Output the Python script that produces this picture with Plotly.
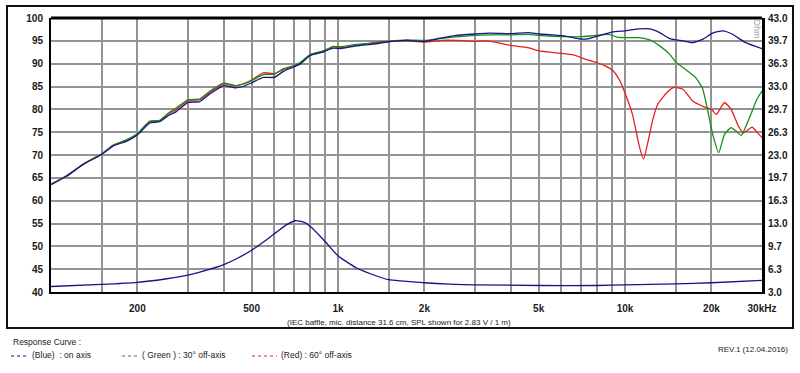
import plotly.graph_objects as go

# ---------------- data ----------------
freq_blue = [100, 113, 130, 150, 165, 183, 200, 221, 239, 259, 273, 300, 330, 358, 400, 438, 467, 500,
             549, 600, 645, 700, 740, 800, 888, 962, 1020, 1160, 1330, 1500, 1730, 2000, 2270, 2520,
             3000, 3400, 4000, 4600, 5000, 5600, 6250, 7000, 7500, 8100, 9000, 10000, 11200, 12200,
             13200, 14300, 15900, 17200, 18600, 20200, 21900, 23600, 26300, 30000]
spl_blue = [63.5, 65.3, 68.0, 70.1, 72.0, 73.0, 74.4, 77.0, 77.3, 78.8, 79.5, 81.5, 81.7, 83.4, 85.2, 84.7,
            85.0, 85.8, 87.0, 87.0, 88.3, 89.3, 90.0, 91.8, 92.6, 93.4, 93.3, 93.9, 94.3, 94.8, 95.1, 94.9,
            95.6, 96.1, 96.5, 96.7, 96.6, 96.8, 96.5, 96.3, 96.0, 95.4, 95.5, 96.1, 96.9, 97.2, 97.6, 97.6,
            96.8, 95.5, 95.0, 94.6, 95.3, 96.7, 97.2, 96.5, 94.6, 93.3]

freq_green = [100, 113, 130, 150, 165, 183, 200, 221, 239, 259, 273, 300, 330, 358, 400, 438, 467, 500,
              549, 600, 645, 700, 740, 800, 888, 962, 1020, 1160, 1330, 1500, 1730, 2000, 2270, 2520,
              3000, 3400, 4000, 4600, 5000, 5600, 6250, 7000, 7700, 8800, 9400, 10000, 11200, 12200,
              13200, 14300, 15000, 16200, 17600, 18600, 19300, 20200, 21200, 22200, 23400, 24300,
              25400, 27300, 28800, 30000]
spl_green = [63.6, 65.4, 68.1, 70.2, 72.2, 73.3, 74.7, 77.4, 77.6, 79.4, 80.3, 82.1, 82.3, 84.0, 85.8, 85.2,
             85.5, 86.3, 87.6, 87.7, 88.9, 89.6, 90.3, 92.0, 92.8, 93.8, 93.7, 94.2, 94.5, 94.9, 95.2, 95.1,
             95.5, 95.8, 96.2, 96.3, 96.3, 96.4, 96.2, 96.0, 95.9, 95.9, 96.1, 96.4, 95.8, 95.7, 95.7, 95.2,
             93.9, 92.1, 90.4, 88.8, 87.0, 84.6, 80.5, 74.5, 70.5, 74.5, 76.0, 75.3, 74.3, 78.6, 82.2, 84.0]

freq_red = [100, 113, 130, 150, 165, 183, 200, 221, 239, 259, 273, 300, 330, 358, 400, 438, 467, 500,
            549, 600, 645, 700, 740, 800, 888, 962, 1020, 1160, 1330, 1500, 1730, 2000, 2300, 2600,
            3000, 3300, 3600, 4000, 4600, 5000, 5900, 6600, 7250, 8000, 8600, 9100, 9600, 10000, 10600,
            11200, 11600, 12000, 12500, 13000, 14000, 14800, 15900, 17200, 18600, 20000, 20800, 22200,
            23400, 24800, 25800, 27700, 28800, 30000]
spl_red = [63.6, 65.4, 68.1, 70.2, 72.2, 73.2, 74.6, 77.3, 77.5, 79.2, 80.0, 81.9, 82.1, 83.7, 85.6, 85.1,
           85.6, 86.4, 88.0, 87.8, 88.7, 89.3, 90.0, 91.9, 92.6, 93.7, 93.5, 94.0, 94.6, 94.9, 95.0, 94.7,
           95.1, 95.1, 94.9, 95.0, 94.6, 94.0, 93.5, 92.8, 92.3, 91.9, 91.0, 90.2, 89.4, 88.4, 86.2, 83.5,
           79.0, 72.0, 69.1, 72.7, 77.8, 81.1, 83.7, 84.8, 84.4, 81.8, 80.7, 80.0, 78.9, 81.5, 80.0, 76.4,
           74.8, 76.1, 75.0, 73.8]

freq_imp = [100, 150, 200, 250, 300, 330, 400, 450, 500, 550, 600, 661, 708, 760, 800, 900, 1000, 1162,
            1370, 1500, 2000, 2450, 3000, 5000, 8000, 10000, 15000, 20000, 30000]
ohm_imp = [3.8, 4.1, 4.4, 4.9, 5.45, 5.9, 7.0, 8.0, 9.1, 10.3, 11.5, 12.8, 13.4, 13.2, 12.6, 10.4, 8.3, 6.5,
           5.3, 4.8, 4.35, 4.15, 4.05, 3.95, 3.95, 4.05, 4.2, 4.35, 4.7]

grid_freqs = [150, 200, 300, 400, 500, 600, 700, 800, 900, 1000, 1500, 2000, 3000, 4000, 5000, 6000,
              7000, 8000, 9000, 10000, 15000, 20000, 30000]
x_labels = {200: "200", 500: "500", 1000: "1k", 2000: "2k", 5000: "5k", 10000: "10k",
            20000: "20k", 30000: "30kHz"}
spl_ticks = [40, 45, 50, 55, 60, 65, 70, 75, 80, 85, 90, 95, 100]
ohm_ticks = [3.0 + i * 40.0 / 12 for i in range(13)]
ohm_labels = ["%.1f" % v for v in ohm_ticks]

BLUE = "#14148c"
GREEN = "#169016"
RED = "#ee1c1c"
FONT = "Liberation Sans, Arial, sans-serif"

# ---------------- figure ----------------
fig = go.Figure()
fig.add_trace(go.Scatter(x=freq_imp, y=ohm_imp, yaxis="y2", mode="lines",
                         line=dict(color=BLUE, width=1.3, shape="spline", smoothing=0.6)))
fig.add_trace(go.Scatter(x=freq_red, y=spl_red, mode="lines",
                         line=dict(color=RED, width=1.3, shape="spline", smoothing=0.5)))
fig.add_trace(go.Scatter(x=freq_green, y=spl_green, mode="lines",
                         line=dict(color=GREEN, width=1.3, shape="spline", smoothing=0.5)))
fig.add_trace(go.Scatter(x=freq_blue, y=spl_blue, mode="lines",
                         line=dict(color=BLUE, width=1.3, shape="spline", smoothing=0.5)))

L, R, T, B = 51, 38, 18, 81
W, H = 800, 373
PW, PH = W - L - R, H - T - B


def px(x):
    return (x - L) / PW


def py(y):
    return (H - B - y) / PH


tickfont = dict(family=FONT, size=10, color="#1a1a1a", weight="bold")

fig.update_layout(
    width=W, height=H, margin=dict(l=L, r=R, t=T, b=B),
    paper_bgcolor="white", plot_bgcolor="white", showlegend=False,
    xaxis=dict(type="log", range=[2, 4.4771], tickvals=grid_freqs,
               ticktext=[x_labels.get(f, "") for f in grid_freqs],
               showgrid=True, gridcolor="#939393", gridwidth=2,
               showline=True, linecolor="black", linewidth=2, mirror=False,
               ticks="", tickfont=tickfont, zeroline=False, ticklabelstandoff=6),
    yaxis=dict(range=[40, 100], tickvals=spl_ticks, showgrid=True, gridcolor="#939393", gridwidth=2,
               showline=True, linecolor="black", linewidth=2, ticks="", tickfont=tickfont,
               zeroline=False, ticklabelstandoff=4),
    yaxis2=dict(range=[3, 43], overlaying="y", side="right", tickvals=ohm_ticks, ticktext=ohm_labels,
                showgrid=False, showline=True, linecolor="black", linewidth=3, ticks="",
                tickfont=tickfont, zeroline=False, ticklabelstandoff=1),
)

# top border of plot area
fig.add_shape(type="line", xref="paper", yref="paper", x0=0, x1=1, y0=1, y1=1,
              line=dict(color="black", width=3))
# outer frame
fig.add_shape(type="rect", xref="paper", yref="paper", x0=px(7), x1=px(793), y0=py(328), y1=py(6),
              line=dict(color="#111111", width=2))

ann = []
ann.append(dict(text="(IEC baffle, mic. distance 31.6 cm, SPL shown for 2.83 V / 1 m)",
                x=px(399), y=py(322), xanchor="center", yanchor="middle",
                font=dict(family=FONT, size=8, color="#222222")))
ann.append(dict(text="Response Curve :", x=px(11), y=py(342), xanchor="left", yanchor="middle",
                font=dict(family=FONT, size=8.5, color="#222222")))
ann.append(dict(text="(Blue)  : on axis", x=px(30), y=py(355), xanchor="left", yanchor="middle",
                font=dict(family=FONT, size=8.5, color="#222222")))
ann.append(dict(text="( Green ) : 30° off-axis", x=px(140), y=py(355), xanchor="left", yanchor="middle",
                font=dict(family=FONT, size=8.5, color="#222222")))
ann.append(dict(text="(Red) : 60° off-axis", x=px(279), y=py(355), xanchor="left", yanchor="middle",
                font=dict(family=FONT, size=8.5, color="#222222")))
ann.append(dict(text="REV.1 (12.04.2016)", x=px(790), y=py(349), xanchor="right", yanchor="middle",
                font=dict(family=FONT, size=8, color="#222222")))
ann.append(dict(text="Ohm", x=px(757), y=py(29), xanchor="center", yanchor="middle", textangle=90,
                font=dict(family=FONT, size=9, color="#9a9a9a")))
for a in ann:
    a.update(xref="paper", yref="paper", showarrow=False)
fig.update_layout(annotations=ann)

for c, x0, x1 in [(BLUE, 11, 28), (GREEN, 122, 138), (RED, 252, 277)]:
    fig.add_shape(type="line", xref="paper", yref="paper", x0=px(x0), x1=px(x1), y0=py(356), y1=py(356),
                  line=dict(color=c, width=1, dash="dot"))

fig.write_html("out.html", config={"displayModeBar": False},
               post_script="document.body.style.margin='0';document.body.style.overflow='hidden';")
